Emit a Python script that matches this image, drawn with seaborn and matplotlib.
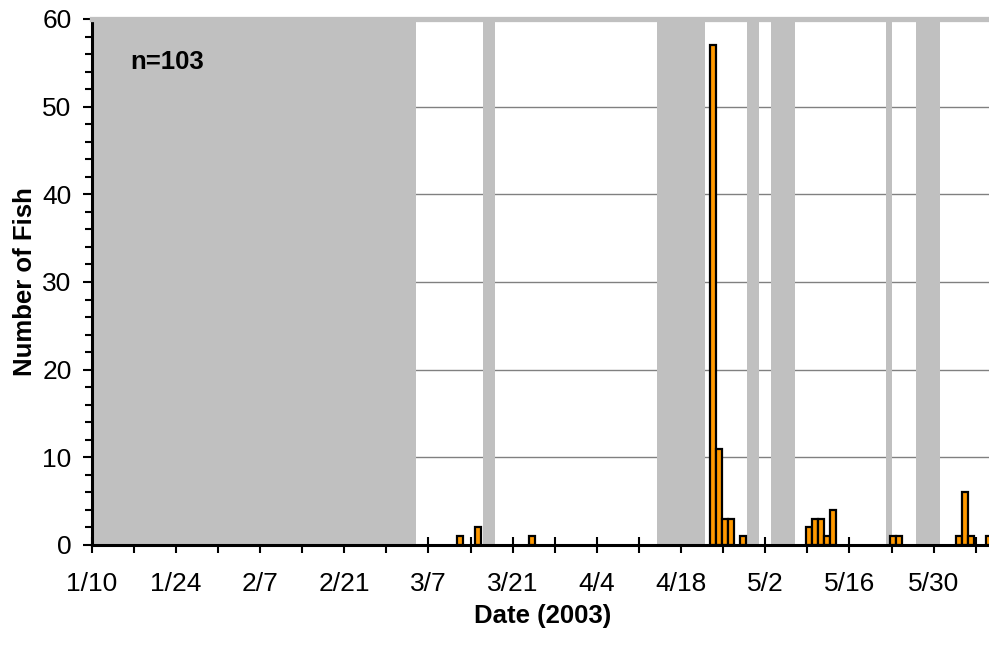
import pandas as pd
import matplotlib.pyplot as plt
import seaborn as sns
from matplotlib.ticker import FixedLocator, MultipleLocator

# Daily catch (dates in 2003) and the periods with no sampling (grey)
season_start = "1/10"
catch_dates = ["3/12", "3/15", "3/24",
               "4/23", "4/24", "4/25", "4/26", "4/28",
               "5/9", "5/10", "5/11", "5/12", "5/13",
               "5/23", "5/24",
               "6/3", "6/4", "6/5", "6/8"]
fish_counts = [1, 2, 1,
               57, 11, 3, 3, 1,
               2, 3, 3, 1, 4,
               1, 1,
               1, 6, 1, 1]
gap_first = ["1/10", "3/16", "4/14", "4/29", "5/3", "5/22", "5/27"]
gap_last = ["3/4", "3/17", "4/21", "4/30", "5/6", "5/22", "5/30"]
n_days = 150


def to_date(s):
    return pd.to_datetime("2003/" + s, format="%Y/%m/%d")


t0 = to_date(season_start)


def day_of(s):
    return (to_date(s) - t0).days


df = pd.DataFrame({"day": [day_of(d) + 0.25 for d in catch_dates],
                   "fish": fish_counts})

sns.set_style("ticks", {"text.color": "black", "axes.labelcolor": "black",
                        "xtick.color": "black", "ytick.color": "black"})
plt.rcParams["font.family"] = ["Liberation Sans", "DejaVu Sans"]

fig = plt.figure(figsize=(9.89, 6.48), dpi=100)
ax = fig.add_axes([0.0927, 0.159, 0.9122, 0.8117])

# grid lines sit under the grey bands
ax.hlines(range(10, 60, 10), 0, n_days, color="#808080", lw=1.0, zorder=0.5)

for a, b in zip(gap_first, gap_last):
    ax.axvspan(day_of(a), day_of(b) + 1, color="#C0C0C0", lw=0, zorder=0.8)

sns.barplot(data=df, x="day", y="fish", native_scale=True, width=1.0,
            color="#FF9900", saturation=1, edgecolor="black", linewidth=1.6,
            errorbar=None, ax=ax, zorder=2)

ax.set_xlim(0, n_days)
ax.set_ylim(0, 60)

# x ticks weekly, labels every two weeks
week_days = list(range(0, n_days, 7))
week_labels = []
for d in week_days:
    dt = t0 + pd.Timedelta(days=d)
    week_labels.append(f"{dt.month}/{dt.day}" if d % 14 == 0 else "")
ax.xaxis.set_major_locator(FixedLocator(week_days))
ax.set_xticklabels(week_labels)
ax.yaxis.set_major_locator(MultipleLocator(10))
ax.yaxis.set_minor_locator(MultipleLocator(2))

ax.tick_params(axis="x", direction="inout", length=11, width=1.5,
               labelsize=19, pad=14)
ax.tick_params(axis="y", which="major", direction="inout", length=13,
               width=1.5, labelsize=19, pad=8)
ax.tick_params(axis="y", which="minor", direction="inout", length=9.5,
               width=1.5)

for side in ["left", "bottom"]:
    ax.spines[side].set_linewidth(2.2)
    ax.spines[side].set_color("black")
ax.spines["right"].set_visible(False)
ax.spines["top"].set_color("#C0C0C0")
ax.spines["top"].set_linewidth(3.8)

ax.set_xlabel("Date (2003)", fontsize=18.5, fontweight="bold", labelpad=6)
ax.set_ylabel("Number of Fish", fontsize=18.5, fontweight="bold", labelpad=4)

ax.text(0.0425, 0.919, f"n={sum(fish_counts)}", transform=ax.transAxes,
        fontsize=18.5, fontweight="bold", va="center", ha="left")

fig.savefig("out.png", dpi=100)
